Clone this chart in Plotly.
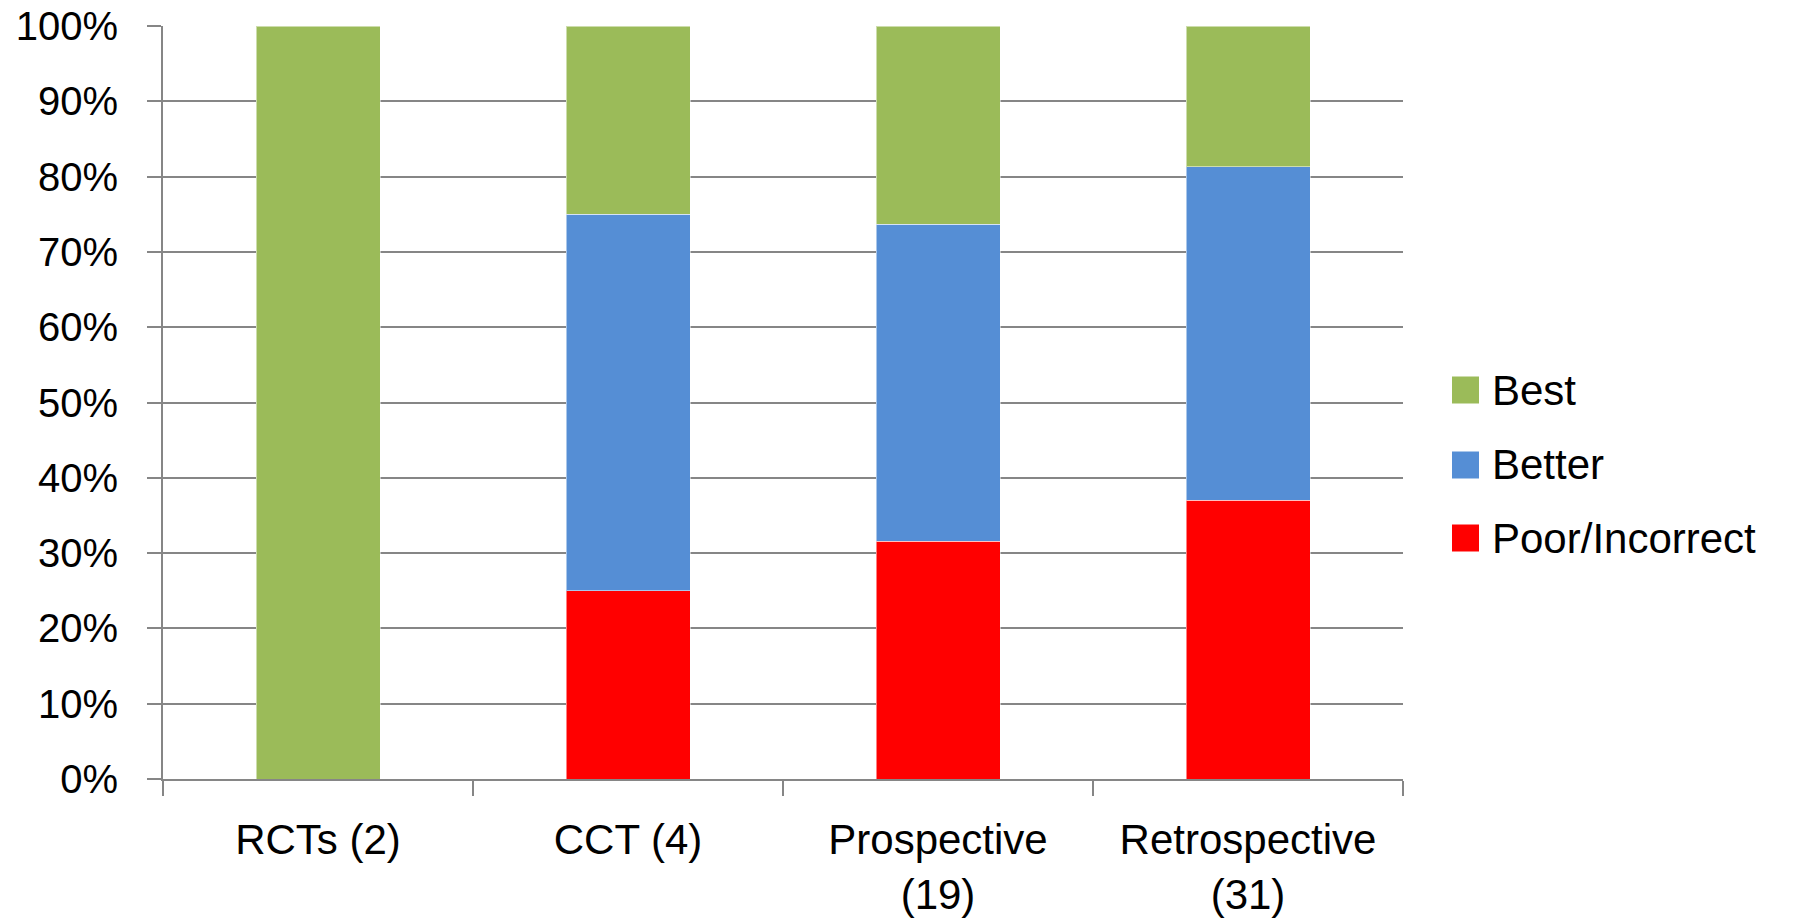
import plotly.graph_objects as go

categories = ["RCTs (2)", "CCT (4)", "Prospective<br>(19)", "Retrospective<br>(31)"]
poor = [0.0, 25.0, 31.6, 37.0]
better = [0.0, 50.0, 42.1, 44.3]
best = [100.0, 25.0, 26.3, 18.7]
series_names = ["Poor/Incorrect", "Better", "Best"]
series_colors = ["#FF0000", "#558ED5", "#9BBB59"]
y_ticks = [0, 10, 20, 30, 40, 50, 60, 70, 80, 90, 100]
y_ticklabels = [f"{v}%" for v in y_ticks]

W, H = 1794, 923
ML, MT = 163, 26
MR = W - 1403
MB = H - 779
PW, PH = W - ML - MR, H - MT - MB

fig = go.Figure()
for name, vals, col in zip(series_names, [poor, better, best], series_colors):
    fig.add_trace(go.Bar(
        x=categories, y=vals, name=name,
        marker=dict(color=col, line=dict(width=1, color="rgba(255,255,255,0.5)")),
        showlegend=False,
    ))

grid = "#868686"
fig.update_layout(
    width=W, height=H,
    barmode="stack", bargap=0.6,
    plot_bgcolor="white", paper_bgcolor="white",
    margin=dict(l=ML, r=MR, t=MT, b=MB, autoexpand=False),
    xaxis=dict(
        showline=True, linecolor=grid, linewidth=2,
        ticks="outside", tickson="boundaries", ticklen=15, tickcolor=grid, tickwidth=2,
        tickfont=dict(family="Liberation Sans", size=42, color="black"),
        ticklabelstandoff=23,
        showgrid=False,
    ),
    yaxis=dict(
        range=[0, 100], tickvals=y_ticks, ticktext=y_ticklabels,
        showline=True, linecolor=grid, linewidth=2, mirror=False,
        ticks="outside", ticklen=14, tickcolor=grid, tickwidth=2,
        showgrid=True, gridcolor=grid, gridwidth=2,
        zeroline=False,
        tickfont=dict(family="Liberation Sans", size=40, color="black"),
        ticklabelstandoff=21,
        ticklabeloverflow="allow",
    ),
)

# Legend drawn manually (large swatches like the original); page-pixel positions
legend_order = [("Best", series_colors[2], 390), ("Better", series_colors[1], 465), ("Poor/Incorrect", series_colors[0], 538)]
sq = 27
sq_left = 1452
text_left = 1490
bottom_px = H - MB
for label, col, cy in legend_order:
    fig.add_shape(type="rect", xref="paper", yref="paper",
                  x0=(sq_left - ML) / PW, x1=(sq_left + sq - ML) / PW,
                  y0=(bottom_px - (cy + sq / 2)) / PH, y1=(bottom_px - (cy - sq / 2)) / PH,
                  fillcolor=col, line=dict(width=0))
    fig.add_annotation(xref="paper", yref="paper", x=(text_left - ML) / PW, y=(bottom_px - cy) / PH,
                       text=label, showarrow=False, xanchor="left", yanchor="middle",
                       font=dict(family="Liberation Sans", size=42, color="black"))

fig.write_html("out.html", config={"displayModeBar": False},
               post_script="document.body.style.margin='0px';")
